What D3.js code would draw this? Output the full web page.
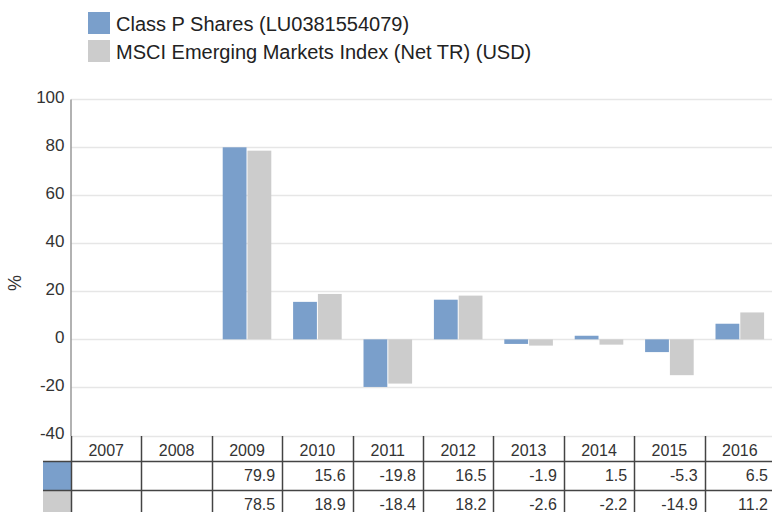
<!DOCTYPE html>
<meta charset="utf-8">
<title>Calendar year performance</title>
<style>
body { margin: 0; background: #fff; }
svg { font-family: "Liberation Sans", Arial, sans-serif; }
.grid line { stroke: #e6e6e6; }
.tick text { fill: #333; font-size: 17px; }
</style>
<body>
<script src="https://cdn.jsdelivr.net/npm/d3@7"></script>
<script>

var years = ["2007", "2008", "2009", "2010", "2011", "2012", "2013", "2014", "2015", "2016"];
var fundValues = [null, null, 79.9, 15.6, -19.8, 16.5, -1.9, 1.5, -5.3, 6.5];
var indexValues = [null, null, 78.5, 18.9, -18.4, 18.2, -2.6, -2.2, -14.9, 11.2];
var seriesNames = ["Class P Shares (LU0381554079)", "MSCI Emerging Markets Index (Net TR) (USD)"];
var seriesColors = ["#7a9fcb", "#cccccc"];
var yTicks = [-40, -20, 0, 20, 40, 60, 80, 100];

var width = 772, height = 512;
var plotLeft = 71, plotRight = 775, plotTop = 99, plotBottom = 435.5;

var svg = d3.select("body").append("svg")
    .attr("width", width)
    .attr("height", height);

var x = d3.scaleBand()
    .domain(years)
    .range([plotLeft, plotRight]);

var y = d3.scaleLinear()
    .domain([-40, 100])
    .range([plotBottom, plotTop]);

var inner = d3.scaleBand()
    .domain([0, 1])
    .range([0, x.bandwidth()])
    .paddingOuter(0.44)
    .paddingInner(0.04);

// gridlines
svg.append("g")
    .attr("class", "grid")
    .selectAll("line")
    .data(yTicks)
  .enter().append("line")
    .attr("x1", plotLeft)
    .attr("x2", width)
    .attr("y1", function(d) { return Math.round(y(d)) + 0.5; })
    .attr("y2", function(d) { return Math.round(y(d)) + 0.5; })
    .attr("stroke-width", 1.5);

// y axis (plain hyphen for negatives, like the original)
var yAxis = svg.append("g")
    .attr("transform", "translate(" + (plotLeft - 0.5) + ",0)")
    .call(d3.axisLeft(y).tickValues(yTicks).tickSize(0).tickPadding(6)
      .tickFormat(function(d) { return String(d); }));
yAxis.select(".domain").attr("stroke", "#999").attr("stroke-width", 1.5);
yAxis.selectAll(".tick text").attr("dy", "0.2em");

svg.append("text")
    .attr("transform", "translate(21,283) rotate(-90)")
    .attr("text-anchor", "middle")
    .attr("fill", "#333")
    .style("font-size", "18px")
    .text("%");

// bars
var series = [fundValues, indexValues];
series.forEach(function(vals, s) {
  svg.append("g")
    .selectAll("rect")
    .data(years.map(function(yr, i) { return {year: yr, v: vals[i]}; })
      .filter(function(d) { return d.v !== null; }))
    .enter().append("rect")
      .attr("x", function(d) { return x(d.year) + inner(s); })
      .attr("width", inner.bandwidth())
      .attr("y", function(d) { return y(Math.max(0, d.v)); })
      .attr("height", function(d) { return Math.abs(y(d.v) - y(0)); })
      .attr("fill", seriesColors[s]);
});

// legend
var legend = svg.append("g")
    .selectAll("g")
    .data(seriesNames)
  .enter().append("g")
    .attr("transform", function(d, i) { return "translate(88," + (12 + i * 28) + ")"; });
legend.append("rect")
    .attr("width", 22)
    .attr("height", 22)
    .attr("fill", function(d, i) { return seriesColors[i]; });
legend.append("text")
    .attr("x", 28)
    .attr("y", 19)
    .attr("fill", "#222")
    .style("font-size", "20px")
    .text(function(d) { return d; });

// data table
var rowTops = [436, 461.5, 490.5, 520];
var table = svg.append("g");
var lineColor = "#444";

table.selectAll(".hdr")
    .data(years)
  .enter().append("text")
    .attr("x", function(d) { return x(d) + x.bandwidth() / 2; })
    .attr("y", 456)
    .attr("text-anchor", "middle")
    .attr("fill", "#333")
    .style("font-size", "16px")
    .text(function(d) { return d; });

series.forEach(function(vals, s) {
  table.append("rect")
    .attr("x", 43)
    .attr("y", rowTops[s + 1])
    .attr("width", plotLeft - 43)
    .attr("height", rowTops[s + 2] - rowTops[s + 1])
    .attr("fill", seriesColors[s]);
  table.selectAll(".v" + s)
    .data(years.map(function(yr, i) { return {year: yr, v: vals[i]}; })
      .filter(function(d) { return d.v !== null; }))
    .enter().append("text")
      .attr("x", function(d) { return x(d.year) + x.bandwidth() - 7; })
      .attr("y", rowTops[s + 1] + 19)
      .attr("text-anchor", "end")
      .attr("fill", "#333")
      .style("font-size", "16px")
      .text(function(d) { return d.v.toFixed(1); });
});

// horizontal table lines
[rowTops[1], rowTops[2]].forEach(function(ry) {
  table.append("line")
    .attr("x1", 43).attr("x2", width)
    .attr("y1", ry).attr("y2", ry)
    .attr("stroke", lineColor).attr("stroke-width", 1.5);
});
// vertical table lines
years.forEach(function(yr) {
  var vx = Math.round(x(yr)) + 0.5;
  table.append("line")
    .attr("x1", vx).attr("x2", vx)
    .attr("y1", rowTops[0]).attr("y2", height)
    .attr("stroke", lineColor).attr("stroke-width", 1.5);
});

</script>
</body>
